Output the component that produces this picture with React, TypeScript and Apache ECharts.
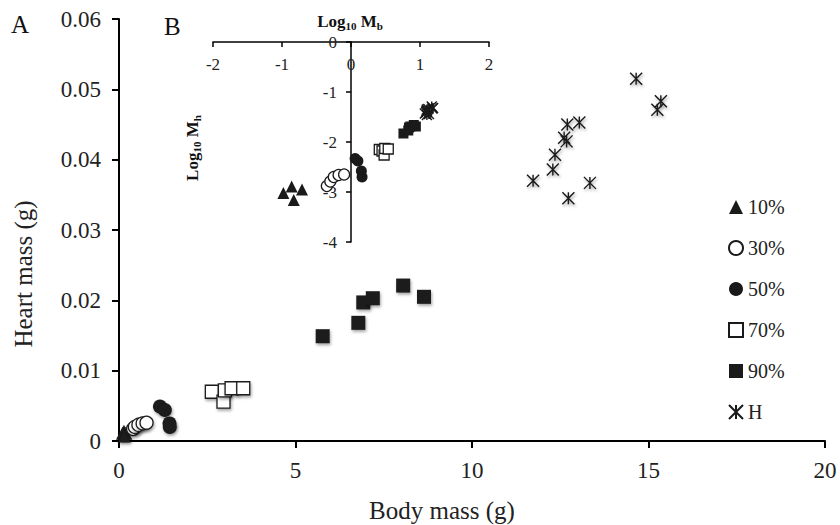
import React, { useEffect, useRef } from 'react';
import * as echarts from 'echarts';

const FONT = 'Liberation Serif';
const INK = '#1a1a1a';

// Main panel (A): body mass (g) vs heart mass (g)
const bm10 = [0.10, 0.14, 0.19, 0.15];
const hm10 = [0.0011, 0.0014, 0.0011, 0.0007];
const bm30 = [0.40, 0.45, 0.55, 0.67, 0.78];
const hm30 = [0.0017, 0.0020, 0.0023, 0.0025, 0.0026];
const bm50 = [1.16, 1.30, 1.43, 1.44];
const hm50 = [0.0049, 0.0044, 0.0025, 0.0020];
const bm70 = [2.63, 2.96, 3.00, 3.19, 3.52];
const hm70 = [0.0070, 0.0056, 0.0072, 0.0075, 0.0075];
const bm90 = [5.77, 6.78, 6.92, 7.19, 8.05, 8.64];
const hm90 = [0.0149, 0.0168, 0.0197, 0.0203, 0.0221, 0.0205];
const bmH = [14.65, 15.35, 15.25, 13.04, 12.70, 12.61, 12.68, 12.35, 12.29, 13.34, 12.73, 11.73];
const hmH = [0.0515, 0.0483, 0.0471, 0.0453, 0.0450, 0.0431, 0.0426, 0.0407, 0.0386, 0.0367, 0.0345, 0.0370];

// Inset panel (B): log10 Mb vs log10 Mh
const lb10 = [-0.86, -0.98, -0.71, -0.83];
const lh10 = [-2.89, -3.02, -2.95, -3.16];
const lb30 = [-0.35, -0.30, -0.25, -0.18, -0.10];
const lh30 = [-2.88, -2.79, -2.70, -2.66, -2.65];
const lb50 = [0.06, 0.10, 0.15, 0.16];
const lh50 = [-2.33, -2.38, -2.58, -2.70];
const lb70 = [0.41, 0.45, 0.48, 0.49, 0.54];
const lh70 = [-2.15, -2.18, -2.26, -2.13, -2.14];
const lb90 = [0.76, 0.83, 0.84, 0.86, 0.91, 0.94];
const lh90 = [-1.83, -1.77, -1.71, -1.69, -1.66, -1.69];
const lbH = [1.17, 1.19, 1.18, 1.12, 1.10, 1.10, 1.10, 1.09, 1.09, 1.13, 1.10, 1.07];
const lhH = [-1.29, -1.32, -1.33, -1.34, -1.35, -1.37, -1.37, -1.39, -1.41, -1.44, -1.46, -1.43];

const names = ['10%', '30%', '50%', '70%', '90%', 'H'];
const xTicksMain = [0, 5, 10, 15, 20];
const yTicksMain = [0, 0.01, 0.02, 0.03, 0.04, 0.05, 0.06];
const xTicksInset = [-2, -1, 0, 1, 2];
const yTicksInset = [-4, -3, -2, -1, 0];

const STAR = 'path://M0,0L10,10M10,0L0,10M5,0L5,10';

const pairs = (a: number[], b: number[]) => a.map((v, i) => [v, b[i]]);

const styles: any[] = [
  { symbol: 'triangle', itemStyle: { color: INK, borderColor: INK, borderWidth: 0 }, size: [13, 12] },
  { symbol: 'circle', itemStyle: { color: '#ffffff', borderColor: INK, borderWidth: 1.3 }, size: [13, 11] },
  { symbol: 'circle', itemStyle: { color: INK, borderColor: INK, borderWidth: 0 }, size: [14, 11] },
  { symbol: 'rect', itemStyle: { color: '#ffffff', borderColor: INK, borderWidth: 1.3 }, size: [13, 10] },
  { symbol: 'rect', itemStyle: { color: INK, borderColor: INK, borderWidth: 0 }, size: [14, 10] },
  { symbol: STAR, itemStyle: { color: INK, borderColor: INK, borderWidth: 1.4 }, size: [12, 10] },
];

const mainData = [pairs(bm10, hm10), pairs(bm30, hm30), pairs(bm50, hm50), pairs(bm70, hm70), pairs(bm90, hm90), pairs(bmH, hmH)];
const insetData = [pairs(lb10, lh10), pairs(lb30, lh30), pairs(lb50, lh50), pairs(lb70, lh70), pairs(lb90, lh90), pairs(lbH, lhH)];

export default function App() {
  const ref = useRef<HTMLDivElement>(null);
  useEffect(() => {
    if (!ref.current) return;
    const chart = echarts.init(ref.current, null, { renderer: 'svg' });
    const shadow = { shadowBlur: 3, shadowColor: 'rgba(0,0,0,0.35)', shadowOffsetX: 1, shadowOffsetY: 2 };
    const series: any[] = [];
    names.forEach((n, i) => {
      series.push({
        type: 'scatter', name: n, xAxisIndex: 0, yAxisIndex: 0,
        symbol: styles[i].symbol, symbolSize: styles[i].size[0],
        itemStyle: { ...styles[i].itemStyle, opacity: 1, ...shadow },
        data: mainData[i], z: 3,
      });
    });
    names.forEach((n, i) => {
      series.push({
        type: 'scatter', name: n, xAxisIndex: 1, yAxisIndex: 1,
        symbol: styles[i].symbol, symbolSize: styles[i].size[1],
        itemStyle: { ...styles[i].itemStyle, opacity: 1 },
        data: insetData[i], z: 4,
      });
    });
    const axisLine = { show: true, lineStyle: { color: '#000', width: 2 } };
    const rich = {
      a: { fontFamily: FONT, fontSize: 17, fontWeight: 'bold', lineHeight: 20, fill: '#111' },
      s: { fontFamily: FONT, fontSize: 11, fontWeight: 'bold', lineHeight: 20, verticalAlign: 'bottom', fill: '#111' },
    };
    chart.setOption({
      animation: false,
      backgroundColor: '#ffffff',
      textStyle: { fontFamily: FONT },
      grid: [
        { left: 119, top: 19, width: 706, height: 422 },
        { left: 213, top: 42, width: 276, height: 200 },
      ],
      xAxis: [
        {
          type: 'value', gridIndex: 0, min: xTicksMain[0], max: xTicksMain[xTicksMain.length - 1], interval: 5,
          axisLine: { ...axisLine, onZero: false }, axisTick: { show: true, length: 7, lineStyle: { color: '#000', width: 2 } },
          splitLine: { show: false },
          axisLabel: { fontFamily: FONT, fontSize: 23, color: '#222', margin: 18 },
        },
        {
          type: 'value', gridIndex: 1, min: xTicksInset[0], max: xTicksInset[xTicksInset.length - 1], interval: 1,
          position: 'bottom', offset: -200,
          axisLine: { show: true, lineStyle: { color: '#000', width: 1.5 }, onZero: false },
          axisTick: { show: true, length: 5, lineStyle: { color: '#000', width: 1.5 } },
          splitLine: { show: false },
          axisLabel: { fontFamily: FONT, fontSize: 17, color: '#222', margin: 14 },
        },
      ],
      yAxis: [
        {
          type: 'value', gridIndex: 0, min: yTicksMain[0], max: yTicksMain[yTicksMain.length - 1], interval: 0.01,
          axisLine: { ...axisLine, onZero: false }, axisTick: { show: true, length: 7, lineStyle: { color: '#000', width: 2 } },
          splitLine: { show: false },
          axisLabel: { fontFamily: FONT, fontSize: 23, color: '#222', margin: 18 },
        },
        {
          type: 'value', gridIndex: 1, min: yTicksInset[0], max: yTicksInset[yTicksInset.length - 1], interval: 1,
          position: 'left', offset: -138,
          axisLine: { show: true, lineStyle: { color: '#000', width: 1.5 }, onZero: false },
          axisTick: { show: true, length: 5, lineStyle: { color: '#000', width: 1.5 } },
          splitLine: { show: false },
          axisLabel: { fontFamily: FONT, fontSize: 17, color: '#222', margin: 14 },
        },
      ],
      legend: {
        data: names,
        orient: 'vertical',
        left: 723,
        top: 192,
        itemWidth: 14,
        itemHeight: 14,
        itemGap: 21,
        textStyle: { fontFamily: FONT, fontSize: 20, color: '#222', lineHeight: 20 },
        selectedMode: false,
      },
      graphic: [
        { type: 'text', left: 11, top: 12, style: { text: 'A', fontFamily: FONT, fontSize: 25, fill: '#111' } },
        { type: 'text', left: 164, top: 14, style: { text: 'B', fontFamily: FONT, fontSize: 25, fill: '#111' } },
        {
          type: 'text', x: 442, y: 510,
          style: { text: 'Body mass (g)', fontFamily: FONT, fontSize: 25, fill: '#222', align: 'center', verticalAlign: 'middle' },
        },
        {
          type: 'text', x: 23, y: 274, rotation: Math.PI / 2,
          style: { text: 'Heart mass (g)', fontFamily: FONT, fontSize: 25, fill: '#222', align: 'center', verticalAlign: 'middle' },
        },
        {
          type: 'text', x: 350, y: 21,
          style: { text: '{a|Log}{s|10}{a| M}{s|b}', align: 'center', verticalAlign: 'middle', fill: '#111', rich },
        },
        {
          type: 'text', x: 192, y: 148, rotation: Math.PI / 2,
          style: { text: '{a|Log}{s|10}{a| M}{s|h}', align: 'center', verticalAlign: 'middle', fill: '#111', rich },
        },
      ],
      series,
    });
    return () => chart.dispose();
  }, []);
  return <div ref={ref} style={{ position: 'absolute', left: 0, top: 0, width: 840, height: 525 }} />;
}
